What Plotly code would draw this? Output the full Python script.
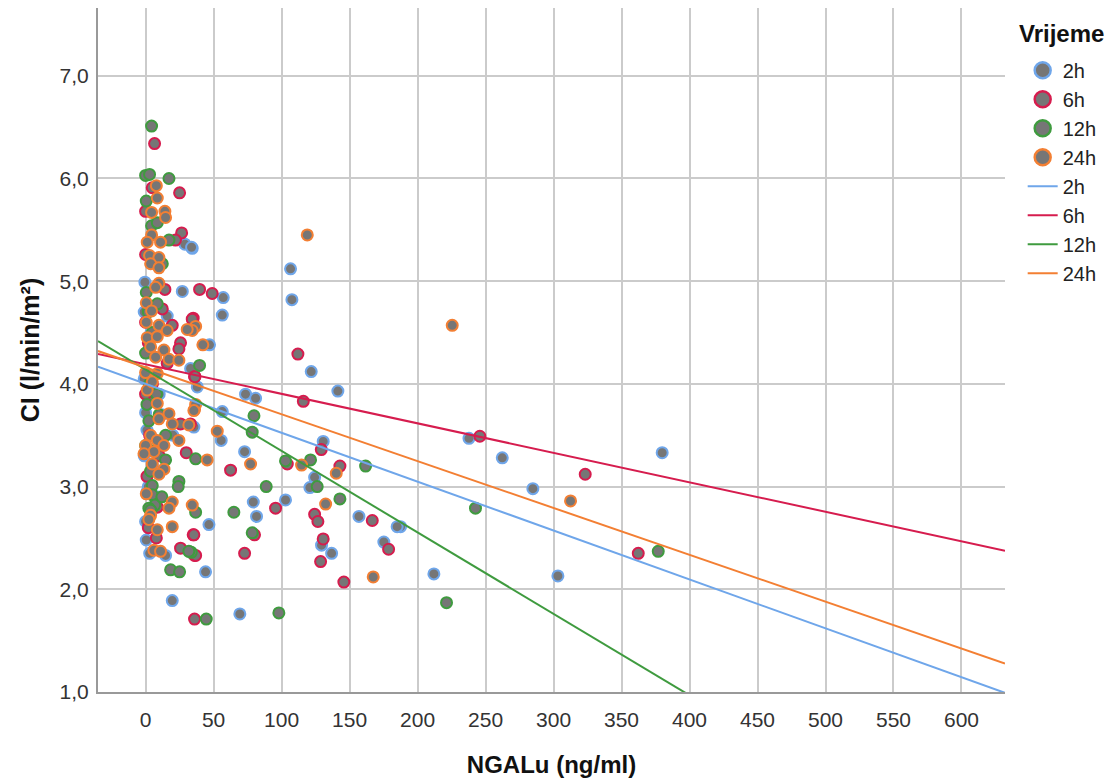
import plotly.graph_objects as go

# ---------------- data ----------------
groups = ["2h", "6h", "12h", "24h"]
colors = ["#6fa6ea", "#d61c4e", "#3f9b3f", "#f37f33"]

x_2h = [106.6, 107.6, 57.1, 56.4, 121.8, 141.4, 237.8, 262.3, 284.8, 379.9, 212, 303.2, 187.5,
        34.3, 28.9, 33.8, 47, 38, 73.5, 80.9, 56.4, 55.6, 35.5, 72.8, 130.6, 124.3, 120.8, 79.2,
        102.9, 81.6, 156.9, 185, 46.6, 175.2, 129.4, 136.8, 44.1, 69.3, 19.6, -0.5, 27, 15.9, 33.1,
        0, 0.5, 14.7, -1, 0, 2, 1, -1, 3, 5, 1, 10, 4, 2, 12, -1, 8, 20, 3]
y_2h = [5.12, 4.82, 4.84, 4.67, 4.12, 3.93, 3.47, 3.28, 2.98, 3.33, 2.15, 2.13, 2.61,
        5.32, 5.36, 5.33, 4.38, 3.97, 3.90, 3.86, 3.73, 3.45, 3.58, 3.34, 3.44, 3.09, 2.99, 2.85,
        2.87, 2.71, 2.71, 2.61, 2.63, 2.46, 2.43, 2.35, 2.17, 1.76, 1.89, 4.99, 4.90, 4.66, 4.15,
        2.66, 2.48, 2.33, 4.05, 3.72, 3.85, 3.55, 3.30, 4.30, 3.20, 2.95, 3.90, 4.50, 3.00, 3.70, 4.70, 2.90, 3.50, 2.35]

x_6h = [245.8, 323.3, 362.3, 39.7, 49, 35, 36, 112, 116, 62.5, 33, 129.2, 104.2, 142.9, 95.6,
        124.3, 126.7, 166.7, 35, 80.1, 130.6, 178.7, 36, 72.8, 128.7, 145.8, 36, 6.6, 25, 4.9, 0,
        26.5, 22, 0, 14.2, 12.3, 19.6, 34.3, 25.7, 24.5, 15.9, 36.3, 25.7, 29.9, 8.6, 35.5, 7.9,
        25.7, 36.8, 2, 0, 3, 1, 5, 0, 10, 2]
y_6h = [3.49, 3.12, 2.35, 4.92, 4.88, 4.64, 4.07, 4.29, 3.83, 3.16, 3.61, 3.36, 3.22, 3.20, 2.79,
        2.73, 2.66, 2.67, 2.53, 2.53, 2.49, 2.39, 2.33, 2.35, 2.27, 2.07, 1.71, 6.34, 5.86, 5.91, 5.68,
        5.47, 5.40, 5.26, 4.92, 4.73, 4.57, 4.63, 4.40, 4.34, 4.20, 4.07, 3.61, 3.33, 2.80, 2.53, 2.50,
        2.40, 2.33, 4.40, 3.90, 3.50, 3.10, 4.00, 4.60, 3.30, 2.60]

x_12h = [377, 242.6, 221.3, 39.7, 79.7, 78.4, 36.8, 102.9, 121.3, 161.8, 126.2, 88.7, 142.9, 64.9,
         36.8, 78.4, 33.6, 44.6, 98, 4.4, 0, 2.9, 17.2, 0.5, 4.4, 8.6, 17.2, 12.3, 0.5, 8.6, 2.4,
         14.7, 14.7, 3.7, 24.5, 4.9, 24, 4.9, 6.8, 2.4, 3.7, 31.8, 18.4, 25, 0, 3, 1, 8, 0, 5, 10, 2, 6, 12]
y_12h = [2.37, 2.79, 1.87, 4.18, 3.69, 3.53, 3.27, 3.25, 3.26, 3.20, 3.00, 3.00, 2.88, 2.75,
         2.75, 2.55, 2.36, 1.71, 1.77, 6.51, 6.03, 6.04, 6.00, 5.78, 5.54, 5.57, 5.40, 5.17, 4.89, 4.78, 3.64,
         3.50, 3.26, 3.15, 3.05, 3.01, 3.00, 2.92, 2.82, 2.79, 2.77, 2.37, 2.19, 2.17, 4.30, 4.00, 3.80, 3.90,
         3.40, 4.50, 3.70, 4.70, 3.35, 2.90]

x_24h = [225.5, 312.5, 118.9, 36.8, 34.3, 42.1, 36, 52.7, 77.2, 45.3, 114.7, 140.2, 132.4, 34.3, 167.4,
         7.9, 8.6, 4.4, 14.2, 14.7, 4.4, 1.2, 11, 2.9, 9.8, 3.7, 9.8, 9.8, 7.4, 0.5, 4.4, 0.5, 9.8, 30.6,
         1.2, 8.6, 15.9, 3.7, 13.5, 7.4, 17.2, 24.5, 0, 8.6, 1.2, 4.9, 8.6, 36.8, 17.2, 35.5, 9.8, 19.6,
         31.8, 3.7, 8.6, 24.5, 0, 13.5, 6.1, -1.2, 4.9, 13.5, 9.8, 0.5, 19.6, 17.2, 3.7, 2.4, 8.6, 19.6,
         6.1, 11]
y_24h = [4.57, 2.86, 5.45, 4.56, 4.52, 4.38, 3.75, 3.54, 3.22, 3.26, 3.21, 3.13, 2.83, 2.82, 2.12,
         5.93, 5.81, 5.67, 5.68, 5.62, 5.45, 5.38, 5.38, 5.25, 5.23, 5.17, 5.13, 4.98, 4.94, 4.79, 4.71, 4.60, 4.57, 4.53,
         4.45, 4.46, 4.52, 4.36, 4.33, 4.26, 4.24, 4.23, 4.11, 4.10, 3.94, 4.02, 3.81, 3.80, 3.71, 3.74, 3.66, 3.61,
         3.60, 3.50, 3.45, 3.45, 3.40, 3.40, 3.34, 3.32, 3.22, 3.17, 3.12, 2.93, 2.85, 2.79, 2.72, 2.68, 2.58, 2.61,
         2.38, 2.37]

# fit lines (intercept, slope) per group
fit_intercept = [4.00, 4.19, 4.14, 4.16]
fit_slope = [-0.00476, -0.00287, -0.00793, -0.00456]

x_range = [-35, 632]
y_range = [1.0, 7.66]
x_ticks = list(range(0, 601, 50))
y_ticks = [1, 2, 3, 4, 5, 6, 7]
legend_title = "Vrijeme"

# ---------------- figure ----------------
xs = [x_2h, x_6h, x_12h, x_24h]
ys = [y_2h, y_6h, y_12h, y_24h]

FONT = "Liberation Sans, Arial, sans-serif"
MARKER_FILL = "#767676"
fig = go.Figure()

# data points (legend shown through proxy entries with bigger symbols)
for g, c, xv, yv in zip(groups, colors, xs, ys):
    fig.add_trace(go.Scatter(
        x=xv, y=yv, mode="markers", name=g, showlegend=False,
        marker=dict(size=11, color=MARKER_FILL, line=dict(color=c, width=2)),
    ))

# legend entries for the point groups
for g, c in zip(groups, colors):
    fig.add_trace(go.Scatter(
        x=[None], y=[None], mode="markers", name=g,
        marker=dict(size=16, color=MARKER_FILL, line=dict(color=c, width=2.5)),
    ))

# fit lines
for g, c, b0, b1 in zip(groups, colors, fit_intercept, fit_slope):
    lx = [x_range[0], x_range[1]]
    ly = [b0 + b1 * v for v in lx]
    fig.add_trace(go.Scatter(
        x=lx, y=ly, mode="lines", name=g,
        line=dict(color=c, width=2),
    ))

# the page body has an 8px margin, so the figure is sized/offset to compensate
fig.update_layout(
    width=1105, height=774,
    margin=dict(l=90, r=108, t=0, b=90),
    paper_bgcolor="white", plot_bgcolor="white",
    separators=", ",
    font=dict(family=FONT, size=20, color="#333"),
    showlegend=True,
    legend=dict(
        x=1.0195, y=0.9375, xanchor="left", yanchor="top",
        font=dict(size=20, color="#222"),
        tracegroupgap=0, itemsizing="trace", itemwidth=30,
        bgcolor="rgba(0,0,0,0)",
    ),
    annotations=[dict(
        text="<b>" + legend_title + "</b>", xref="paper", yref="paper",
        x=1.0135, y=0.963, xanchor="left", yanchor="middle", showarrow=False,
        font=dict(family=FONT, size=24, color="#111"),
    )],
    xaxis=dict(
        range=x_range, tickvals=x_ticks, showgrid=True, gridcolor="#cbcbcb", gridwidth=2,
        zeroline=False, showline=True, linecolor="#999999", linewidth=2,
        ticks="outside", ticklen=8, tickcolor="rgba(0,0,0,0)", tickfont=dict(size=21, color="#333"),
        title=dict(text="<b>NGALu (ng/ml)</b>", font=dict(size=24, color="#111"), standoff=26),
    ),
    yaxis=dict(
        range=y_range, tickvals=y_ticks, tickformat=".1f", showgrid=True, gridcolor="#cbcbcb", gridwidth=2,
        zeroline=False, showline=True, linecolor="#999999", linewidth=2,
        ticks="outside", ticklen=3, tickcolor="rgba(0,0,0,0)", tickfont=dict(size=21, color="#333"),
        title=dict(text="<b>CI (l/min/m²)</b>", font=dict(size=25, color="#111"), standoff=13),
    ),
)

fig.write_html("out.html")
